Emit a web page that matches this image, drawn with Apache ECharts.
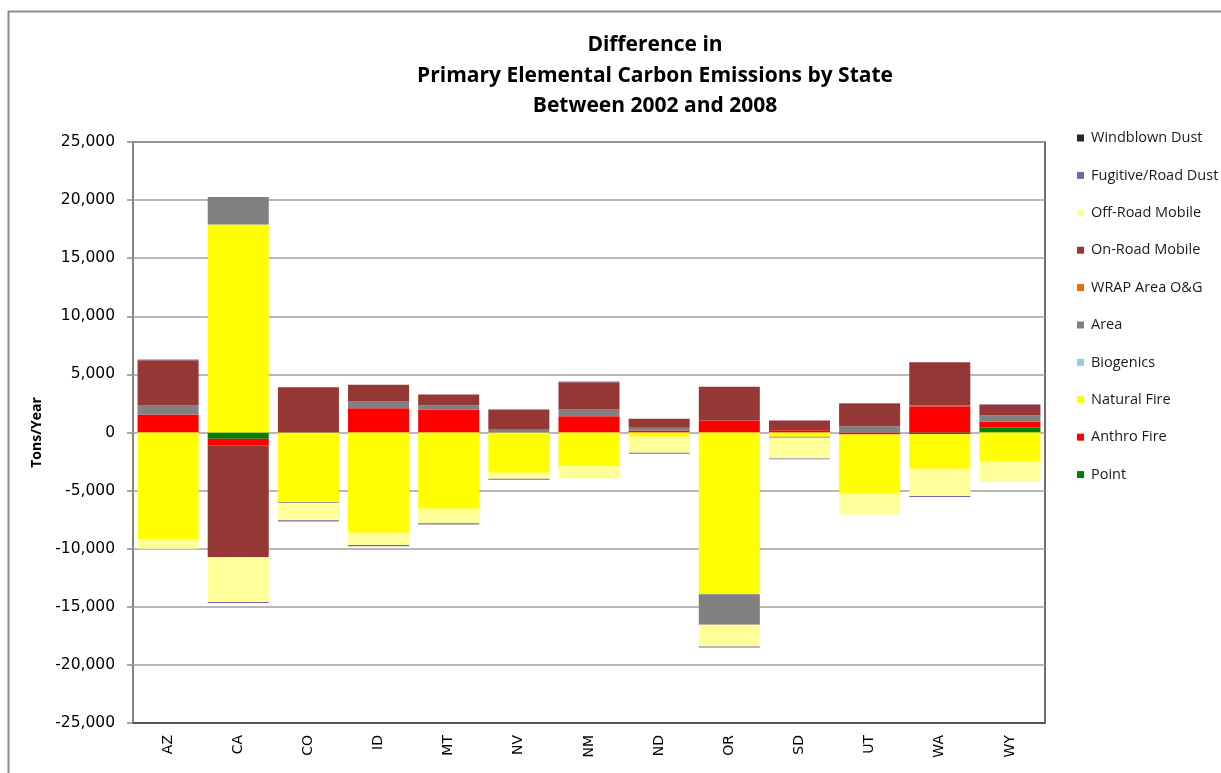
<!DOCTYPE html>
<html>
<head>
<meta charset="utf-8">
<script src="https://cdn.jsdelivr.net/npm/echarts@6/dist/echarts.min.js"></script>
<style>
  html, body { margin: 0; padding: 0; background: #ffffff; }
  #chart { width: 1221px; height: 773px; }
</style>
</head>
<body>
<div id="chart"></div>
<script>
// States on the category axis
const states = ['AZ', 'CA', 'CO', 'ID', 'MT', 'NV', 'NM', 'ND', 'OR', 'SD', 'UT', 'WA', 'WY'];

// Change in elemental carbon emissions (tons/year), 2002 -> 2008, by source category
const point          = [0, -540, 0, 0, 0, 0, 0, 0, 0, 0, 0, -150, 460];
const anthroFire     = [1550, -550, 0, 2090, 1980, 0, 1400, 170, 1030, 200, -170, 2260, 460];
const naturalFire    = [-9160, 17900, -6010, -8620, -6560, -3460, -2900, -370, -13920, -370, -5100, -2970, -2520];
const biogenics      = [0, 0, 0, 0, 0, 0, 0, 0, 0, 0, 0, 0, 0];
const area           = [770, 2370, -60, 570, 340, 300, 580, 230, -2630, -80, 540, 60, 570];
const wrapAreaOG     = [0, 0, 0, 0, 0, 0, 0, 0, 0, 0, 0, 0, 0];
const onRoadMobile   = [3900, -9650, 3890, 1440, 940, 1680, 2340, 780, 2900, 830, 1950, 3720, 890];
const offRoadMobile  = [-840, -3840, -1490, -1060, -1260, -520, -1050, -1380, -1860, -1780, -1780, -2350, -1750];
const fugitiveDust   = [60, -100, -90, -100, -90, -90, 60, -80, -90, -80, 50, -90, 50];
const windblownDust  = [0, 0, 0, 0, 0, 0, 0, 0, 0, 0, 0, 0, 0];

// Y axis range and step
const yMin = -25000;
const yMax = 25000;
const yStep = 5000;

// Stacking order, bottom of the stack first
const seriesDefs = [
  { name: 'Point',              data: point,         color: '#008000' },
  { name: 'Anthro Fire',        data: anthroFire,    color: '#FF0000' },
  { name: 'Natural Fire',       data: naturalFire,   color: '#FFFF00' },
  { name: 'Biogenics',          data: biogenics,     color: '#92CDDC' },
  { name: 'Area',               data: area,          color: '#808080' },
  { name: 'WRAP Area O&G',      data: wrapAreaOG,    color: '#E26B0A' },
  { name: 'On-Road Mobile',     data: onRoadMobile,  color: '#953735' },
  { name: 'Off-Road Mobile',    data: offRoadMobile, color: '#FFFF99' },
  { name: 'Fugitive/Road Dust', data: fugitiveDust,  color: '#8064A2' },
  { name: 'Windblown Dust',     data: windblownDust, color: '#262626' }
];

const chart = echarts.init(document.getElementById('chart'), null, { renderer: 'canvas' });

const fmt = v => {
  const s = Math.abs(v).toString().replace(/\B(?=(\d{3})+(?!\d))/g, ',');
  return (v < 0 ? '-' : '') + s;
};

chart.setOption({
  animation: false,
  backgroundColor: '#ffffff',
  title: {
    text: 'Difference in\nPrimary Elemental Carbon Emissions by State\nBetween 2002 and 2008',
    left: 655,
    textAlign: 'center',
    top: 30,
    padding: 0,
    textStyle: {
      fontFamily: 'Open Sans',
      fontWeight: 'bold',
      fontSize: 21,
      lineHeight: 30.5,
      color: '#000000'
    }
  },
  legend: {
    orient: 'vertical',
    left: 1077,
    top: 130,
    padding: 0,
    icon: 'rect',
    itemWidth: 7,
    itemHeight: 7,
    itemGap: 21.4,
    selectedMode: false,
    data: seriesDefs.map(s => s.name).reverse(),
    textStyle: {
      fontFamily: 'Open Sans',
      fontSize: 14.5,
      lineHeight: 16,
      color: '#1a1a1a',
      padding: [0, 0, 0, 2]
    }
  },
  grid: {
    left: 133,
    right: 176,
    top: 142,
    bottom: 50,
    show: true,
    borderColor: '#404040',
    borderWidth: 1.5,
    containLabel: false
  },
  xAxis: {
    type: 'category',
    data: states,
    position: 'bottom',
    axisLine: { onZero: false, lineStyle: { color: '#404040', width: 1.5 } },
    axisTick: { show: false },
    axisLabel: {
      rotate: 90,
      margin: 12,
      fontFamily: 'DejaVu Sans',
      fontSize: 14,
      color: '#000000'
    }
  },
  yAxis: {
    type: 'value',
    min: yMin,
    max: yMax,
    interval: yStep,
    name: 'Tons/Year',
    nameLocation: 'middle',
    nameGap: 77,
    nameTextStyle: {
      fontFamily: 'Open Sans',
      fontWeight: 'bold',
      fontSize: 14,
      color: '#000000'
    },
    axisLine: { show: true, lineStyle: { color: '#8c8c8c', width: 1.5 } },
    axisTick: { show: true, inside: false, length: 6, lineStyle: { color: '#8c8c8c', width: 1.5 } },
    splitLine: { lineStyle: { color: '#a0a0a0', width: 1.6 } },
    axisLabel: {
      margin: 18,
      fontFamily: 'DejaVu Sans',
      fontSize: 15.5,
      color: '#000000',
      formatter: fmt
    }
  },
  graphic: [
    {
      type: 'rect',
      left: 6,
      top: 9,
      shape: { width: 1400, height: 900 },
      style: { fill: 'none', stroke: '#8c8c8c', lineWidth: 2 },
      silent: true
    }
  ],
  series: seriesDefs.map(s => ({
    name: s.name,
    type: 'bar',
    stack: 'total',
    barCategoryGap: '13%',
    data: s.data,
    itemStyle: { color: s.color }
  }))
});
</script>
</body>
</html>
